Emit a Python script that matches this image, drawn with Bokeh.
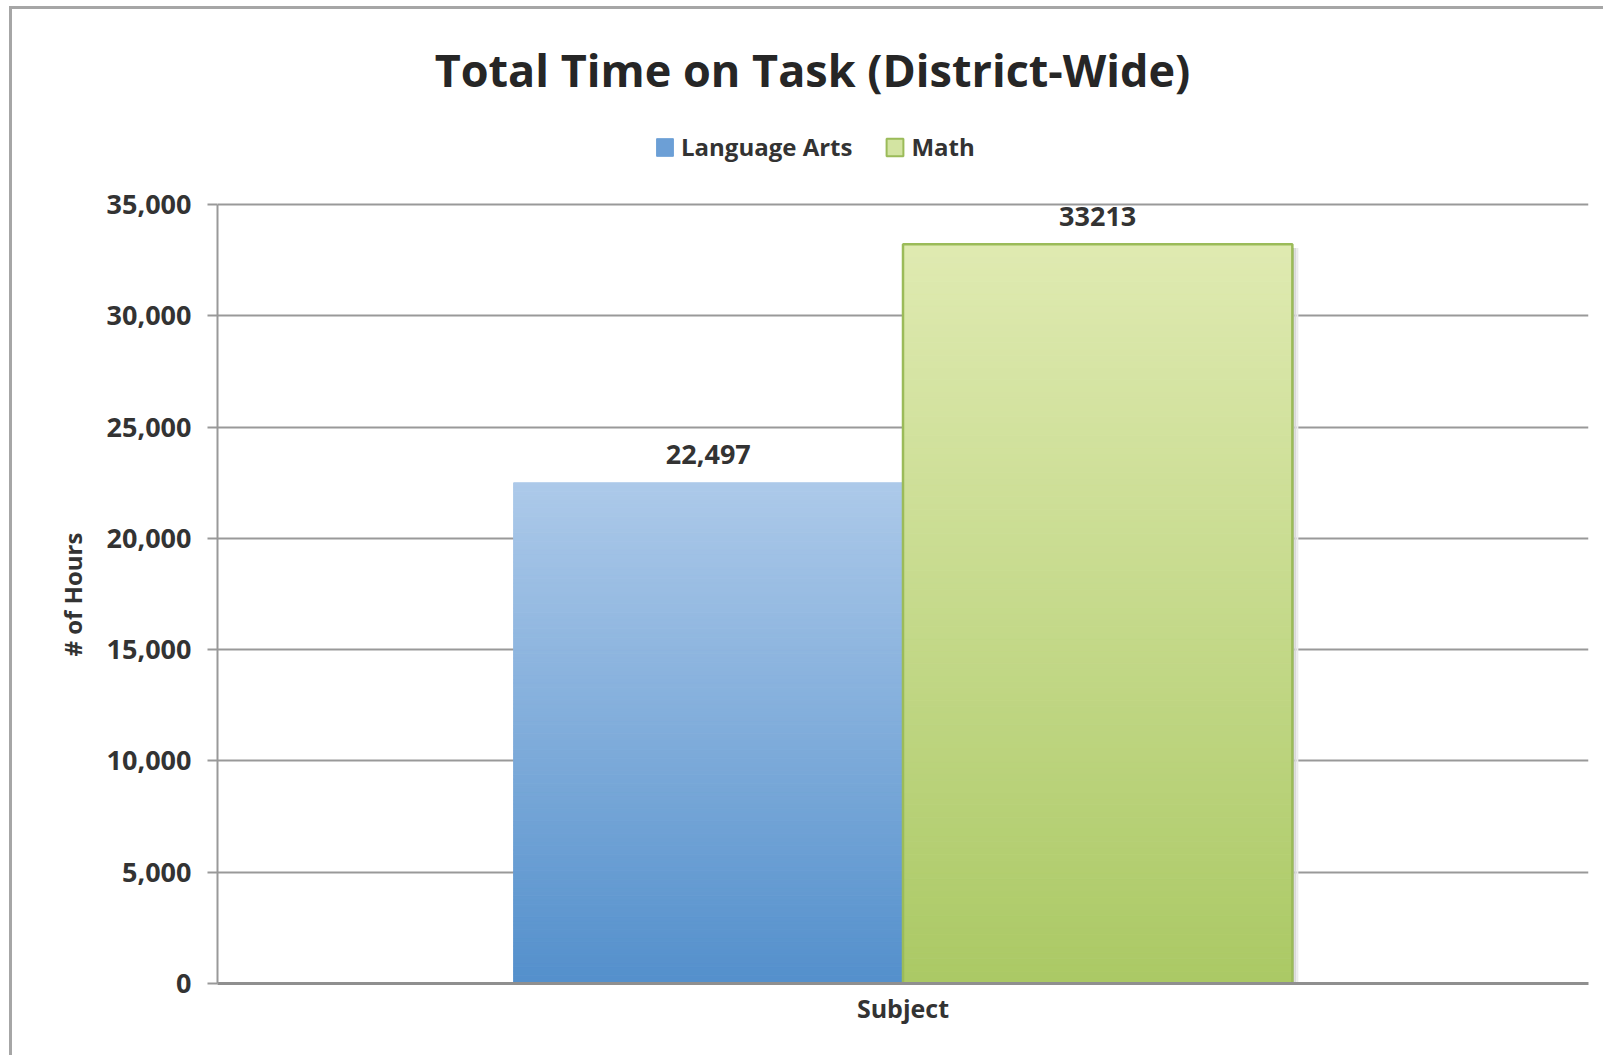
from bokeh.plotting import figure
from bokeh.models import (Range1d, FactorRange, FixedTicker, NumeralTickFormatter,
                          ColumnDataSource, Label, Legend, LegendItem, Title)
from bokeh.transform import dodge
from bokeh.core.properties import value
from bokeh.embed import file_html
from bokeh.resources import INLINE

# ---- data ----
category = ["Subject"]
series = ["Language Arts", "Math"]
hours = [22497, 33213]
value_labels = ["22,497", "33213"]
y_ticks = [0, 5000, 10000, 15000, 20000, 25000, 30000, 35000]
y_max = 35000
title_text = "Total Time on Task (District-Wide)"
y_title = "# of Hours"

# ---- style ----
FONT = "Open Sans"
TXT = "#333333"
GRID = "#999999"
grad_bottom = [(84, 144, 204), (171, 201, 101)]
grad_top = [(172, 201, 233), (223, 234, 177)]
bar_w = 0.284
offsets = [-bar_w / 2, bar_w / 2]

# layout: frame spans from near the top so title/legend can live inside it
FRAME_TOP, AXIS_TOP, FRAME_BOTTOM = 14, 204, 983
y_end = y_max * (FRAME_BOTTOM - FRAME_TOP) / (FRAME_BOTTOM - AXIS_TOP)

W, H = 1594, 1049
p = figure(width=W, height=H, x_range=FactorRange(factors=category, range_padding=0),
           y_range=Range1d(0, y_end), output_backend="svg", toolbar_location=None,
           min_border_left=205, min_border_right=18, min_border_top=FRAME_TOP - 9,
           min_border_bottom=75)
p.styles = {"margin-left": "9px", "margin-top": "6px",
            "border-top": "3px solid #a6a6a6", "border-left": "3px solid #a6a6a6"}
p.outline_line_color = None
p.background_fill_color = "white"
p.border_fill_color = "white"

p.xgrid.grid_line_color = None
p.ygrid.grid_line_color = GRID
p.ygrid.grid_line_width = 2
p.ygrid.bounds = (0, y_max)
p.ygrid.ticker = FixedTicker(ticks=y_ticks)

p.yaxis.ticker = FixedTicker(ticks=y_ticks)
p.yaxis.bounds = (0, y_max)
p.yaxis.formatter = NumeralTickFormatter(format="0,0")
p.yaxis.axis_line_color = GRID
p.yaxis.axis_line_width = 2
p.yaxis.major_tick_line_color = GRID
p.yaxis.major_tick_line_width = 2
p.yaxis.major_tick_out = 10
p.yaxis.major_tick_in = 0
p.yaxis.minor_tick_line_color = None
p.yaxis.major_label_text_font = FONT
p.yaxis.major_label_text_font_style = "bold"
p.yaxis.major_label_text_font_size = "27px"
p.yaxis.major_label_text_color = TXT
p.yaxis.major_label_standoff = 16

p.xaxis.axis_line_color = "#8f8f8f"
p.xaxis.axis_line_width = 3
p.xaxis.major_tick_line_color = None
p.xaxis.minor_tick_line_color = None
p.xaxis.major_label_text_font = FONT
p.xaxis.major_label_text_font_style = "bold"
p.xaxis.major_label_text_font_size = "25px"
p.xaxis.major_label_text_color = TXT
p.xaxis.major_label_standoff = 1

# y-axis title placed along the 0..35,000 span
p.add_layout(Title(text=y_title, align="left", offset=FRAME_BOTTOM - 656,
                   text_font=FONT, text_font_style="bold", text_font_size="24px",
                   text_color=TXT, standoff=29), "left")

# ---- bars drawn as gradient strips ----
N = 120
px = 1.0 / 1371.0
for i, (name, v) in enumerate(zip(series, hours)):
    b, t = grad_bottom[i], grad_top[i]
    bottoms, tops, cols = [], [], []
    for k in range(N):
        f = k / (N - 1)
        c = tuple(int(round(b[j] + (t[j] - b[j]) * f)) for j in range(3))
        bottoms.append(v * k / N)
        tops.append(v * (k + 1) / N)
        cols.append("#%02x%02x%02x" % c)
    src = ColumnDataSource(dict(x=category * N, bottom=bottoms, top=tops, color=cols))
    left = dodge("x", offsets[i] - bar_w / 2, range=p.x_range)
    right = dodge("x", offsets[i] + bar_w / 2, range=p.x_range)
    # soft shadow on right side
    for s, sc in enumerate(["#c4c4c4", "#d8d8d8", "#ebebeb"]):
        ssrc = ColumnDataSource(dict(x=category, top=[v * 0.995]))
        p.quad(left=dodge("x", offsets[i] + bar_w / 2 + s * 2 * px, range=p.x_range),
               right=dodge("x", offsets[i] + bar_w / 2 + (s + 1) * 2 * px, range=p.x_range),
               bottom=0, top="top", source=ssrc, fill_color=sc, line_color=None)
    p.quad(left=left, right=right, bottom="bottom", top="top", source=src,
           fill_color="color", line_color="color", line_width=1)
    if i == 1:
        osrc = ColumnDataSource(dict(x=category, top=[v]))
        p.quad(left=left, right=right, bottom=0, top="top", source=osrc,
               fill_color=None, line_color="#9bbb59", line_width=2.5)
    lsrc = ColumnDataSource(dict(x=category, y=[v], text=[value_labels[i]]))
    p.text(x=dodge("x", offsets[i], range=p.x_range), y="y", text="text", source=lsrc,
           text_align="center", text_baseline="middle", y_offset=-28,
           text_font=value(FONT), text_font_style="bold", text_font_size="27px", text_color=TXT)

# ---- legend (swatches only; sources hold no visible data) ----
nan = float("nan")
r_la = p.quad(left=[nan], right=[nan], bottom=[nan], top=[nan],
              fill_color="#6c9fd6", line_color="#6c9fd6")
r_ma = p.quad(left=[nan], right=[nan], bottom=[nan], top=[nan],
              fill_color="#d3e4a2", line_color="#9bbb59", line_width=2)
legend = Legend(items=[LegendItem(label=series[0], renderers=[r_la], index=0),
                       LegendItem(label=series[1], renderers=[r_ma], index=0)],
                orientation="horizontal", location=(437, 820), padding=0, margin=0,
                spacing=32, label_standoff=6, glyph_width=21, glyph_height=22,
                border_line_color=None, background_fill_alpha=0,
                label_text_font=FONT, label_text_font_style="bold",
                label_text_font_size="24px", label_text_color=TXT)
p.add_layout(legend, "center")

# ---- title ----
p.add_layout(Label(x=595, y=914, x_units="screen", y_units="screen", text=title_text,
                   text_align="center", text_baseline="middle", text_font=FONT,
                   text_font_style="bold", text_font_size="45px", text_color="#262626"))

open("out.html", "w").write(file_html(p, INLINE))
